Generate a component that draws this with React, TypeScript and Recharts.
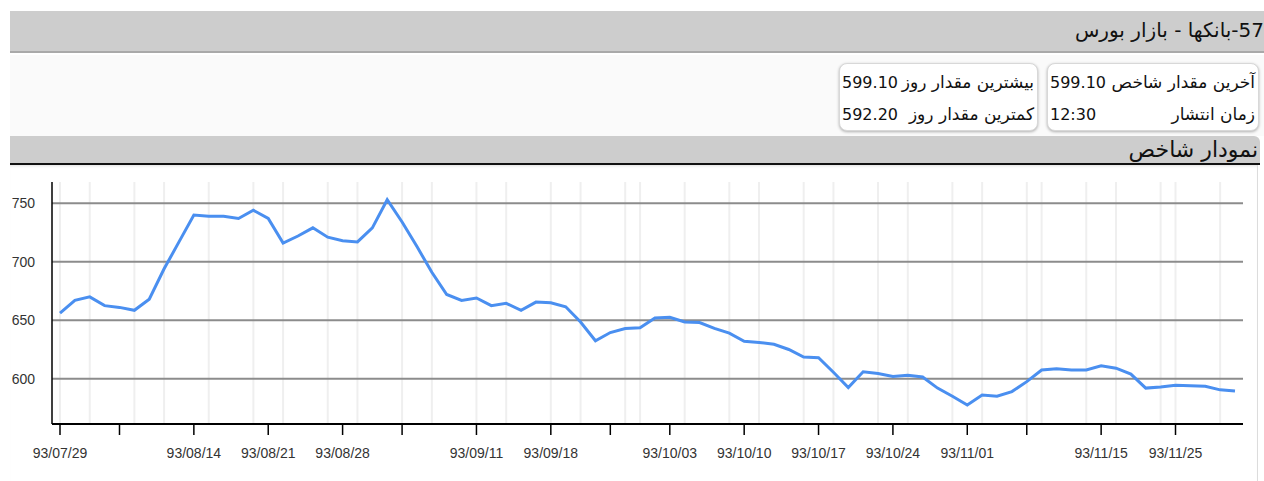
import { LineChart, Line, XAxis, YAxis, ReferenceLine } from "recharts"

// index values, one per trading day
const values = [
  656, 667, 670, 662.5, 661, 658.5, 668, 694, 717, 740,
  739, 739, 737, 744, 737, 716, 722, 729, 721, 718,
  717, 729, 753, 734, 713, 691, 672, 667, 669, 662.5,
  664.5, 658.5, 665.5, 665, 661.5, 648.5, 632.5, 639.5, 643, 643.5,
  652, 652.5, 648.5, 648, 643, 639, 632, 631, 629.5, 625,
  618.5, 618, 605.5, 592.5, 606, 604.5, 602, 603, 601.5, 592,
  585, 577.5, 586, 585, 589, 597.5, 607.5, 608.5, 607.5, 607.5,
  611, 609, 604, 592, 593, 594.5, 594, 593.5, 590.5, 589.5,
]

const tickIdx = [0, 4, 9, 14, 19, 23, 28, 33, 37, 41, 46, 51, 56, 61, 65, 70, 75]
const tickLabels = [
  "93/07/29", "", "93/08/14", "93/08/21", "93/08/28", "", "93/09/11", "93/09/18", "",
  "93/10/03", "93/10/10", "93/10/17", "93/10/24", "93/11/01", "", "93/11/15", "93/11/25",
]

// light vertical grid positions (day index)
const gridIdx = [
  0, 2, 5, 7, 10, 13, 15, 18, 20, 23, 25, 28, 30, 33, 35, 38, 39, 42, 45, 47, 50,
  52, 55, 57, 60, 62, 65, 66, 69, 71, 74, 75, 78,
]

const yTicks = [600, 650, 700, 750]

const data = values.map((v, i) => ({ i, v }))

const faFont = "'DejaVu Sans', sans-serif"
const axisFont = "'Liberation Sans', Arial, sans-serif"

function InfoBox({ left, width, rows, valueWidth }: {
  left: number
  width: number
  rows: [string, string][]
  valueWidth: number
}) {
  return (
    <div
      dir="rtl"
      style={{
        position: "absolute",
        left,
        top: 63,
        width,
        height: 68,
        boxSizing: "border-box",
        background: "#fff",
        border: "1px solid #d8d8d8",
        borderRadius: 8,
        boxShadow: "0 1px 3px rgba(0,0,0,0.3)",
        padding: "2px 3px 0 2px",
        fontFamily: faFont,
        color: "#111",
      }}
    >
      {rows.map(([label, value]) => (
        <div key={label} style={{ display: "flex", height: 32, alignItems: "center" }}>
          <span style={{ flex: 1, textAlign: "right", whiteSpace: "nowrap", fontSize: 17 }}>{label}</span>
          <span style={{ width: valueWidth, textAlign: "left", fontSize: 16 }}>{value}</span>
        </div>
      ))}
    </div>
  )
}

export default function App() {
  const fmt = (t: number) => {
    const k = tickIdx.indexOf(t)
    return k >= 0 ? tickLabels[k] : ""
  }

  return (
    <div
      style={{
        position: "absolute",
        left: 0,
        top: 0,
        width: 1264,
        height: 481,
        background: "#fff",
        overflow: "hidden",
      }}
    >
      {/* title bar */}
      <div
        dir="rtl"
        style={{
          position: "absolute",
          left: 10,
          top: 11,
          width: 1254,
          height: 42,
          boxSizing: "border-box",
          background: "#cdcdcd",
          borderBottom: "2px solid #a9a9a9",
          fontFamily: faFont,
          fontSize: 20,
          lineHeight: "38px",
          color: "#111",
          whiteSpace: "nowrap",
        }}
      >
        57-بانکها - بازار بورس
      </div>

      {/* info strip */}
      <div style={{ position: "absolute", left: 10, top: 55, width: 1254, height: 81, background: "#fafafa" }} />
      <InfoBox
        left={1047}
        width={212}
        valueWidth={60}
        rows={[
          ["آخرین مقدار شاخص", "599.10"],
          ["زمان انتشار", "12:30"],
        ]}
      />
      <InfoBox
        left={839}
        width={199}
        valueWidth={60}
        rows={[
          ["بیشترین مقدار روز", "599.10"],
          ["کمترین مقدار روز", "592.20"],
        ]}
      />

      {/* section bar */}
      <div
        dir="rtl"
        style={{
          position: "absolute",
          left: 10,
          top: 136,
          width: 1250,
          height: 29,
          boxSizing: "border-box",
          background: "#cdcdcd",
          borderBottom: "2px solid #111",
          borderTopRightRadius: 6,
          fontFamily: faFont,
          fontSize: 22,
          lineHeight: "28px",
          color: "#111",
          paddingRight: 2,
          whiteSpace: "nowrap",
        }}
      >
        نمودار شاخص
      </div>

      {/* chart frame */}
      <div
        style={{
          position: "absolute",
          left: 10,
          top: 165,
          width: 1247,
          height: 316,
          borderRight: "1px solid #dcdcdc",
          boxShadow: "inset 0 3px 3px -2px rgba(0,0,0,0.12)",
        }}
      >
        <LineChart
          width={1247}
          height={316}
          data={data}
          margin={{ top: 17, right: 14, left: 0, bottom: 27 }}
        >
          {gridIdx.map((g) => (
            <ReferenceLine key={"g" + g} x={g} stroke="#efefef" strokeWidth={2} />
          ))}
          {yTicks.map((t) => (
            <ReferenceLine key={"h" + t} y={t} stroke="#8c8c8c" strokeWidth={2} />
          ))}
          <XAxis
            dataKey="i"
            type="number"
            domain={[0, values.length - 1]}
            ticks={tickIdx}
            interval={0}
            tickFormatter={fmt}
            padding={{ left: 8, right: 8 }}
            height={30}
            tickSize={11}
            tickMargin={13}
            axisLine={{ stroke: "#000", strokeWidth: 2 }}
            tickLine={{ stroke: "#000", strokeWidth: 1.5 }}
            tick={{ fill: "#333", fontSize: 14, fontFamily: axisFont }}
          />
          <YAxis
            domain={[561.3, 768.2]}
            ticks={yTicks}
            width={42}
            tickLine={false}
            tickSize={6}
            tickMargin={11}
            axisLine={{ stroke: "#000", strokeWidth: 1.5 }}
            tick={{ fill: "#333", fontSize: 14, fontFamily: axisFont }}
          />
          <Line
            type="linear"
            dataKey="v"
            stroke="#4a8ff0"
            strokeWidth={3}
            dot={false}
            activeDot={false}
            isAnimationActive={false}
          />
        </LineChart>
      </div>
    </div>
  )
}
